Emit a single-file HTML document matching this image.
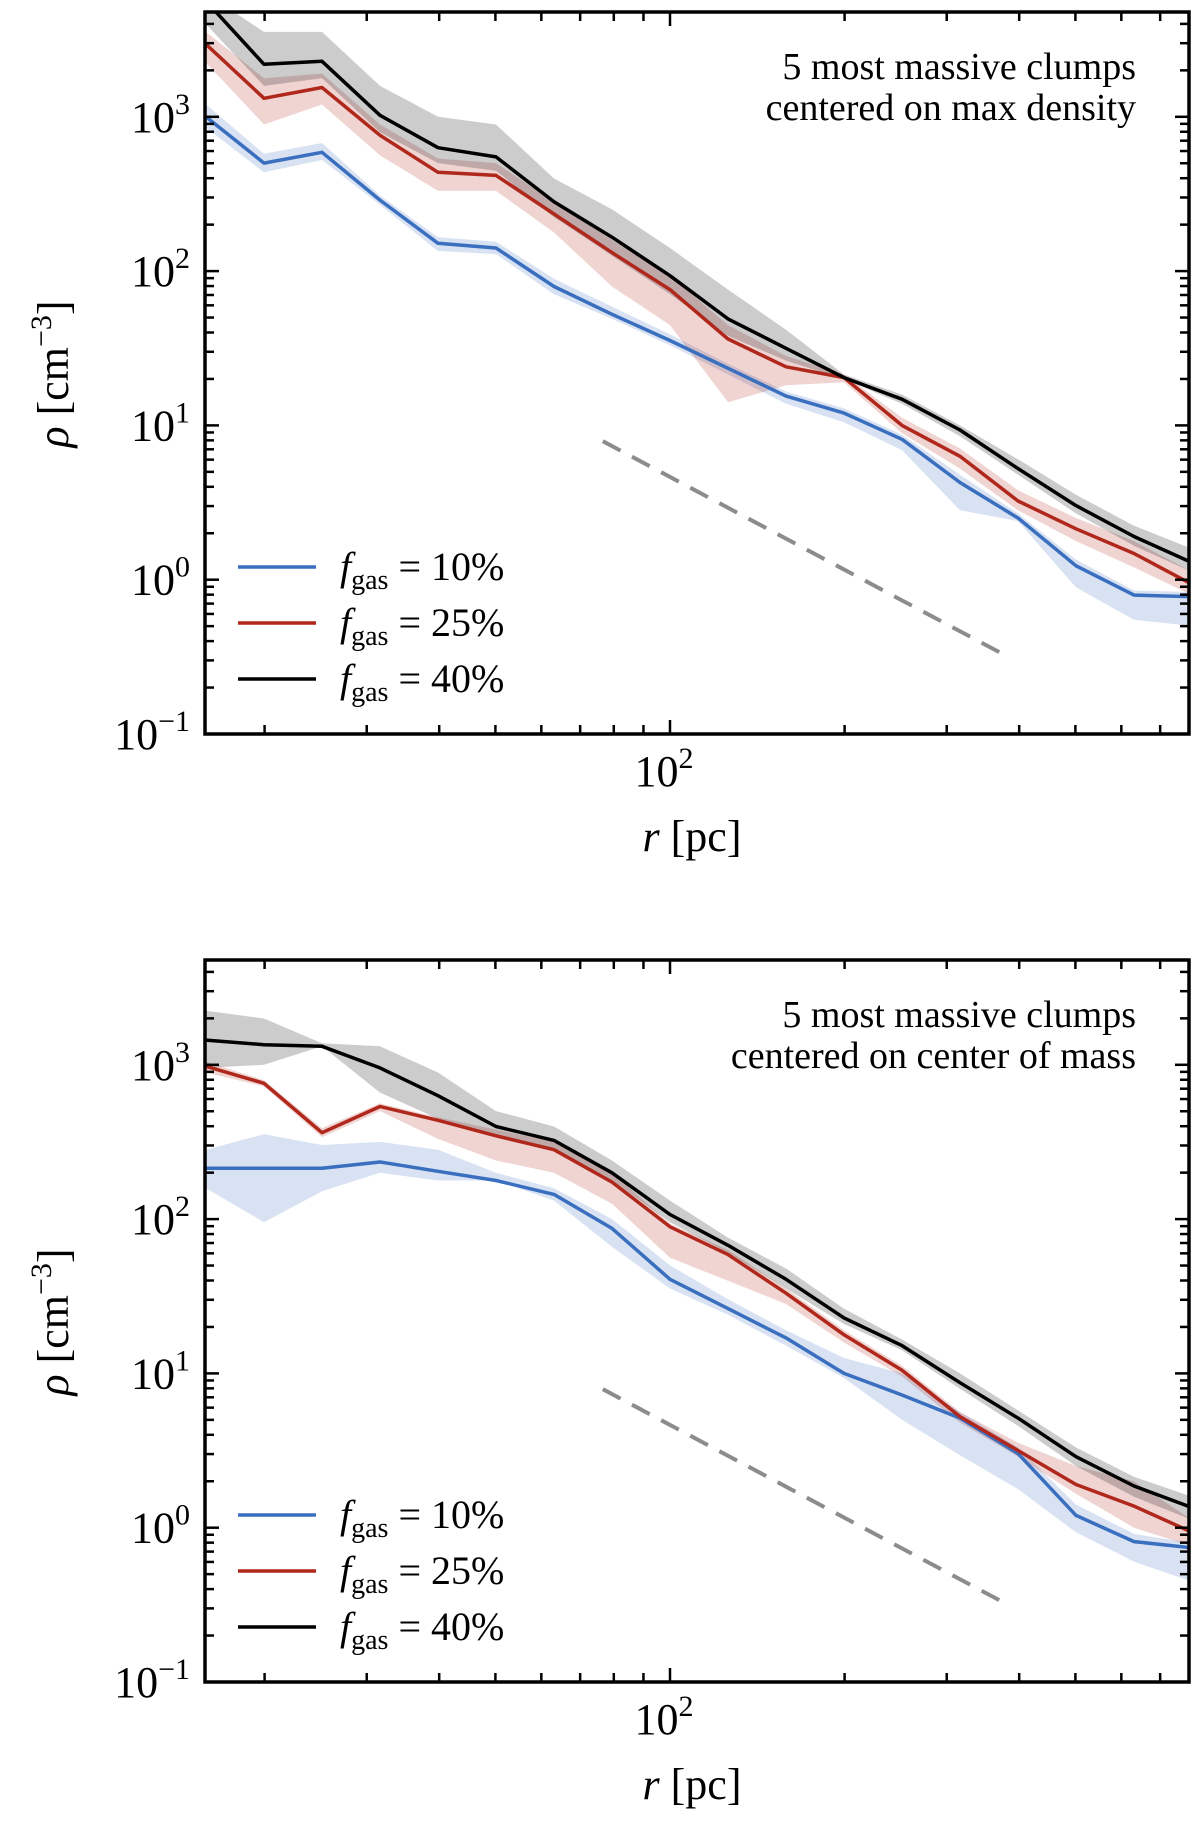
<!DOCTYPE html>
<html><head><meta charset="utf-8"><style>
html,body{margin:0;padding:0;background:#fff;}
svg{display:block;font-family:"Liberation Serif","DejaVu Serif",serif;}
</style></head><body>
<svg id="fig" width="1200" height="1822" viewBox="0 0 1200 1822" xmlns="http://www.w3.org/2000/svg"></svg>
<script>
// shared radial bins: log10(r) = 1.2 + 0.1k
const logR = [1.2,1.3,1.4,1.5,1.6,1.7,1.8,1.9,2.0,2.1,2.2,2.3,2.4,2.5,2.6,2.7,2.8,2.9];
// Panel A (max density) log10(rho)
const aBlue = [3.0,2.70,2.77,2.46,2.18,2.15,1.90,1.72,1.55,1.37,1.19,1.08,0.91,0.63,0.40,0.09,-0.10,-0.11];
const aBlueLo = [2.93,2.64,2.72,2.43,2.13,2.11,1.85,1.69,1.52,1.33,1.14,1.02,0.84,0.45,0.38,-0.05,-0.26,-0.30];
const aBlueHi = [3.08,2.76,2.83,2.49,2.22,2.19,1.95,1.77,1.59,1.40,1.22,1.11,0.94,0.68,0.43,0.13,-0.07,-0.08];
const aRed = [3.47,3.12,3.19,2.88,2.64,2.62,2.37,2.12,1.88,1.56,1.38,1.31,1.00,0.80,0.51,0.33,0.17,-0.03];
const aRedLo = [3.35,2.95,3.08,2.75,2.52,2.52,2.25,1.90,1.65,1.15,1.26,1.28,0.95,0.72,0.45,0.25,0.08,-0.10];
const aRedHi = [3.55,3.25,3.28,2.95,2.73,2.70,2.45,2.20,1.97,1.65,1.45,1.33,1.05,0.85,0.58,0.40,0.25,0.05];
const aBlack = [3.75,3.34,3.36,3.01,2.80,2.74,2.45,2.22,1.97,1.69,1.50,1.31,1.17,0.97,0.72,0.48,0.28,0.11];
const aBlackLo = [3.6,3.2,3.25,2.9,2.7,2.65,2.35,2.1,1.85,1.58,1.42,1.30,1.14,0.93,0.68,0.43,0.22,0.05];
const aBlackHi = [3.8,3.55,3.55,3.2,3.0,2.95,2.6,2.4,2.15,1.88,1.62,1.33,1.20,1.00,0.78,0.55,0.35,0.20];
// Panel B (center of mass)
const bBlue = [2.33,2.33,2.33,2.37,2.31,2.25,2.16,1.94,1.61,1.42,1.23,1.00,0.86,0.71,0.48,0.08,-0.09,-0.13];
const bBlueLo = [2.2,1.98,2.18,2.3,2.25,2.25,2.12,1.82,1.55,1.38,1.18,0.97,0.70,0.47,0.25,-0.03,-0.22,-0.35];
const bBlueHi = [2.45,2.55,2.48,2.5,2.45,2.30,2.20,2.00,1.70,1.48,1.28,1.10,1.00,0.75,0.52,0.15,-0.04,-0.10];
const bRed = [2.99,2.88,2.56,2.73,2.64,2.54,2.45,2.24,1.95,1.77,1.52,1.25,1.02,0.72,0.50,0.28,0.14,-0.03];
const bRedLo = [2.95,2.86,2.53,2.70,2.52,2.38,2.30,2.10,1.75,1.60,1.45,1.20,0.98,0.68,0.46,0.22,0.00,-0.12];
const bRedHi = [3.02,2.90,2.59,2.75,2.66,2.58,2.50,2.30,1.97,1.80,1.55,1.28,1.05,0.75,0.55,0.40,0.30,0.05];
const bBlack = [3.16,3.13,3.12,2.98,2.80,2.60,2.51,2.30,2.03,1.83,1.61,1.36,1.18,0.94,0.71,0.46,0.27,0.13];
const bBlackLo = [2.98,3.0,3.12,2.82,2.65,2.55,2.45,2.25,1.98,1.78,1.55,1.32,1.15,0.90,0.66,0.40,0.20,0.05];
const bBlackHi = [3.35,3.3,3.14,3.12,2.95,2.70,2.60,2.38,2.12,1.88,1.68,1.42,1.22,1.00,0.76,0.52,0.33,0.20];
// reference slope line: rho ∝ r^-2
const refR = [76.6, 372];
const refRho0 = 7.9;
const yTickExp = [-1,0,1,2,3];
const legendLabels = ["10%","25%","40%"];
const colors = ["#3a6fbf","#b0271c","#000000"];

const NS="http://www.w3.org/2000/svg";
const svg=document.getElementById('fig');
function mk(tag,attrs,parent){const e=document.createElementNS(NS,tag);for(const k in attrs)e.setAttribute(k,attrs[k]);(parent||svg).appendChild(e);return e;}

const L=205,R=1189,DEC=580,X100=670;
function xs(lr){return X100+(lr-2)*DEC;}

function panel(off,name,t1,t2,series){
  const top=12+off,bot=734+off,D=154.3;
  const ys=lr=>bot-(lr+1)*D;
  const g=mk('g',{});
  
  
  const cp=mk('clipPath',{id:'c'+off},g);
  mk('rect',{x:L,y:top,width:R-L,height:bot-top},cp);
  const plot=mk('g',{'clip-path':'url(#c'+off+')'},g);
  const bandNames=['band-10','band-25','band-40'];
  const lineNames=['line-fgas-10','line-fgas-25','line-fgas-40'];
  const bandCol=['rgba(58,111,191,0.2)','rgba(176,39,28,0.2)','rgba(0,0,0,0.2)'];
  series.forEach((s,i)=>{
    let d='';
    logR.forEach((r,k)=>{d+=(k?'L':'M')+xs(r).toFixed(1)+','+ys(s[1][k]).toFixed(1);});
    for(let k=logR.length-1;k>=0;k--)d+='L'+xs(logR[k]).toFixed(1)+','+ys(s[2][k]).toFixed(1);
    const b=mk('path',{d:d+'Z',fill:bandCol[i],stroke:'none'},plot);
    
    
  });
  series.forEach((s,i)=>{
    const pts=logR.map((r,k)=>xs(r).toFixed(1)+','+ys(s[0][k]).toFixed(1)).join(' ');
    const p=mk('polyline',{points:pts,fill:'none',stroke:colors[i],'stroke-width':3.5,'stroke-linejoin':'round'},plot);
    
    
  });
  const r0=Math.log10(refR[0]),r1=Math.log10(refR[1]);
  const y0=Math.log10(refRho0),y1=y0-2*(r1-r0);
  const ref=mk('line',{x1:xs(r0),y1:ys(y0),x2:xs(r1),y2:ys(y1),stroke:'#8c8c8c','stroke-width':4,'stroke-dasharray':'20,13'},plot);
  
  
  const tk=mk('g',{stroke:'#000','stroke-width':2.5},g);
  
  
  for(let e=1;e<=2;e++)for(let m=1;m<=9;m++){
    const lr=e+Math.log10(m);const x=xs(lr);if(x<L+2||x>R-2)continue;
    const len=(m===1)?14:9;
    mk('line',{x1:x,y1:bot,x2:x,y2:bot-len},tk);mk('line',{x1:x,y1:top,x2:x,y2:top+len},tk);
  }
  for(let e=-1;e<=3;e++)for(let m=1;m<=9;m++){
    const lr=e+Math.log10(m);const y=ys(lr);if(y<top+1||y>bot)continue;
    const len=(m===1)?14:9;
    mk('line',{x1:L,y1:y,x2:L+len,y2:y},tk);mk('line',{x1:R,y1:y,x2:R-len,y2:y},tk);
  }
  const fr=mk('rect',{x:L,y:top,width:R-L,height:bot-top,fill:'none',stroke:'#000','stroke-width':3.5},g);
  
  
  yTickExp.forEach(e=>{
    const t=mk('text',{x:190,y:ys(e)+15,'text-anchor':'end','font-size':44},g);
    
    
    t.innerHTML='10<tspan dy="-18" font-size="30">'+(e<0?'\u2212'+(-e):e)+'</tspan>';
  });
  const xt=mk('text',{x:X100-6,y:bot+52,'text-anchor':'middle','font-size':44},g);
  
  
  xt.innerHTML='10<tspan dy="-18" font-size="30">2</tspan>';
  const xl=mk('text',{x:692,y:bot+117,'text-anchor':'middle','font-size':44},g);
  
  
  xl.innerHTML='<tspan font-style="italic">r</tspan> [pc]';
  const yl=mk('text',{x:0,y:0,'text-anchor':'middle','font-size':44,transform:'translate(68,'+(top+362)+') rotate(-90)'},g);
  
  
  yl.innerHTML='<tspan font-style="italic">\u03c1</tspan> [cm<tspan dy="-17" font-size="30">\u22123</tspan><tspan dy="17">]</tspan>';
  [t1,t2].forEach((s,i)=>{
    const a=mk('text',{x:1136,y:top+67+i*41,'text-anchor':'end','font-size':38},g);
    
    
    a.textContent=s;
  });
  legendLabels.forEach((lab,i)=>{
    const y=top+555+i*56;
    const le=mk('g',{},g);
    
    
    mk('line',{x1:238,y1:y,x2:316,y2:y,stroke:colors[i],'stroke-width':3.5},le);
    const t=mk('text',{x:340,y:y+13,'font-size':40},le);
    t.innerHTML='<tspan font-style="italic">f</tspan><tspan dy="9" font-size="28">gas</tspan><tspan dy="-9"> = '+lab+'</tspan>';
  });
}
panel(0,'panel-max-density','5 most massive clumps','centered on max density',
  [[aBlue,aBlueLo,aBlueHi],[aRed,aRedLo,aRedHi],[aBlack,aBlackLo,aBlackHi]]);
panel(948,'panel-center-of-mass','5 most massive clumps','centered on center of mass',
  [[bBlue,bBlueLo,bBlueHi],[bRed,bRedLo,bRedHi],[bBlack,bBlackLo,bBlackHi]]);
</script>
</body></html>
